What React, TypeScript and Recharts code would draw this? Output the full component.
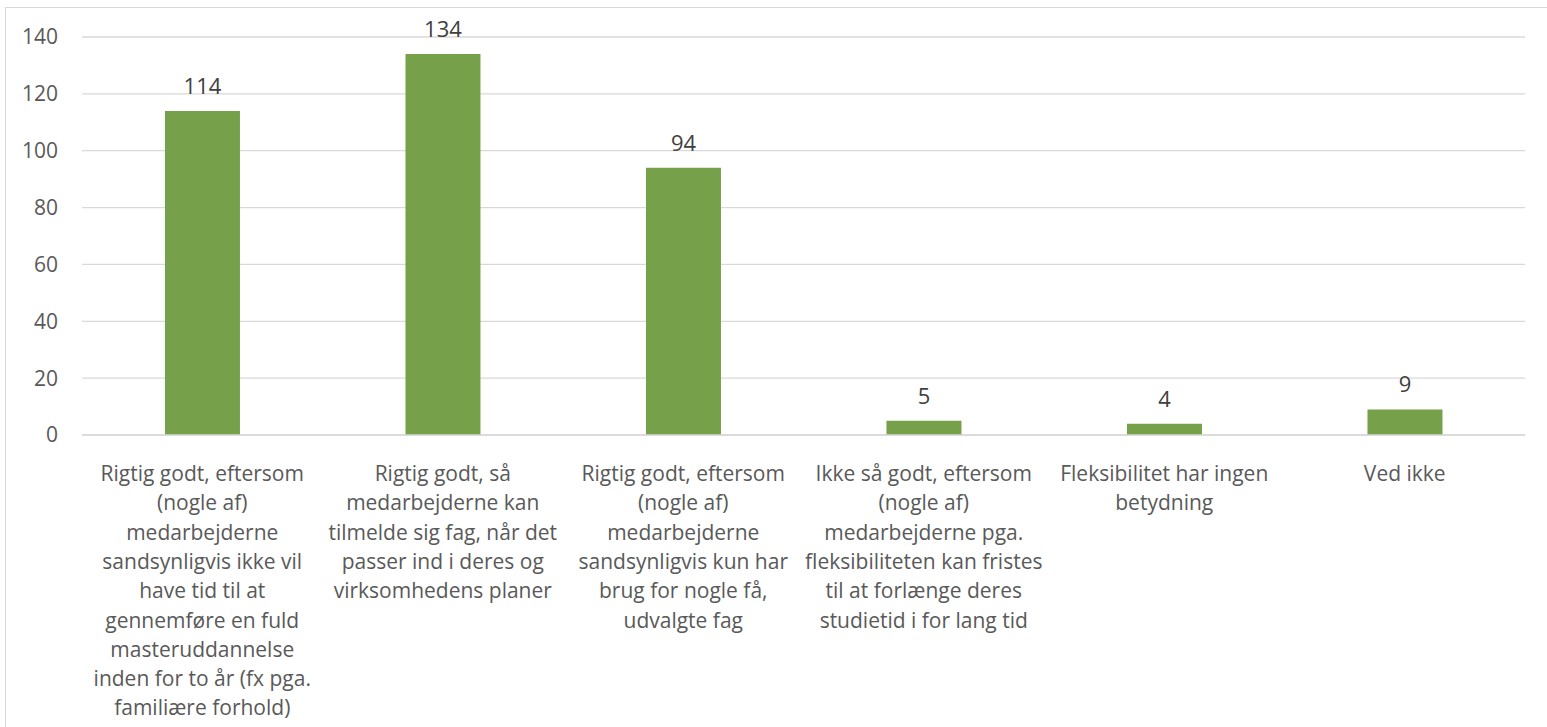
import React from "react";
import { BarChart, Bar, XAxis, YAxis, CartesianGrid, LabelList } from "recharts";

const categories: string[] = [
  "Rigtig godt, eftersom\n(nogle af)\nmedarbejderne\nsandsynligvis ikke vil\nhave tid til at\ngennemføre en fuld\nmasteruddannelse\ninden for to år (fx pga.\nfamiliære forhold)",
  "Rigtig godt, så\nmedarbejderne kan\ntilmelde sig fag, når det\npasser ind i deres og\nvirksomhedens planer",
  "Rigtig godt, eftersom\n(nogle af)\nmedarbejderne\nsandsynligvis kun har\nbrug for nogle få,\nudvalgte fag",
  "Ikke så godt, eftersom\n(nogle af)\nmedarbejderne pga.\nfleksibiliteten kan fristes\ntil at forlænge deres\nstudietid i for lang tid",
  "Fleksibilitet har ingen\nbetydning",
  "Ved ikke",
];
const values: number[] = [114, 134, 94, 5, 4, 9];
const yTicks: number[] = [0, 20, 40, 60, 80, 100, 120, 140];

const data = categories.map((c, i) => ({ name: c, value: values[i] }));

const FONT = "'Open Sans', sans-serif";

const XTick = (props: any) => {
  const { x, y, payload } = props;
  const lines = String(payload.value).split("\n");
  return (
    <g transform={`translate(${x},${y})`}>
      <text textAnchor="middle" fill="#595959" fontSize={21} fontFamily={FONT}>
        {lines.map((l, i) => (
          <tspan key={i} x={0} y={38 + i * 29.3}>
            {l}
          </tspan>
        ))}
      </text>
    </g>
  );
};

export default function App() {
  return (
    <div style={{ position: "absolute", left: 0, top: 0, width: 1547, height: 727, overflow: "hidden", background: "#fff" }}>
      <div
        style={{
          position: "absolute",
          left: 5,
          top: 7,
          width: 1600,
          height: 800,
          border: "1px solid #d9d9d9",
          boxSizing: "border-box",
        }}
      />
      <div style={{ position: "absolute", left: 0, top: 0 }}>
        <BarChart
          width={1547}
          height={727}
          data={data}
          margin={{ top: 37, right: 22, left: 0, bottom: 0 }}
          barCategoryGap="34.5%"
        >
          <CartesianGrid vertical={false} stroke="#d9d9d9" strokeWidth={1.3} />
          <XAxis
            dataKey="name"
            height={292}
            interval={0}
            tickLine={false}
            axisLine={{ stroke: "#d9d9d9", strokeWidth: 1.3 }}
            tick={<XTick />}
          />
          <YAxis
            width={82}
            domain={[0, 140]}
            ticks={yTicks}
            axisLine={false}
            tickLine={false}
            tickSize={0}
            tickMargin={24}
            tick={{ fill: "#595959", fontSize: 21, fontFamily: FONT }}
          />
          <Bar dataKey="value" fill="#77a04a" isAnimationActive={false}>
            <LabelList
              dataKey="value"
              position="top"
              offset={17}
              fill="#404040"
              fontSize={22}
              fontFamily={FONT}
            />
          </Bar>
        </BarChart>
      </div>
    </div>
  );
}
